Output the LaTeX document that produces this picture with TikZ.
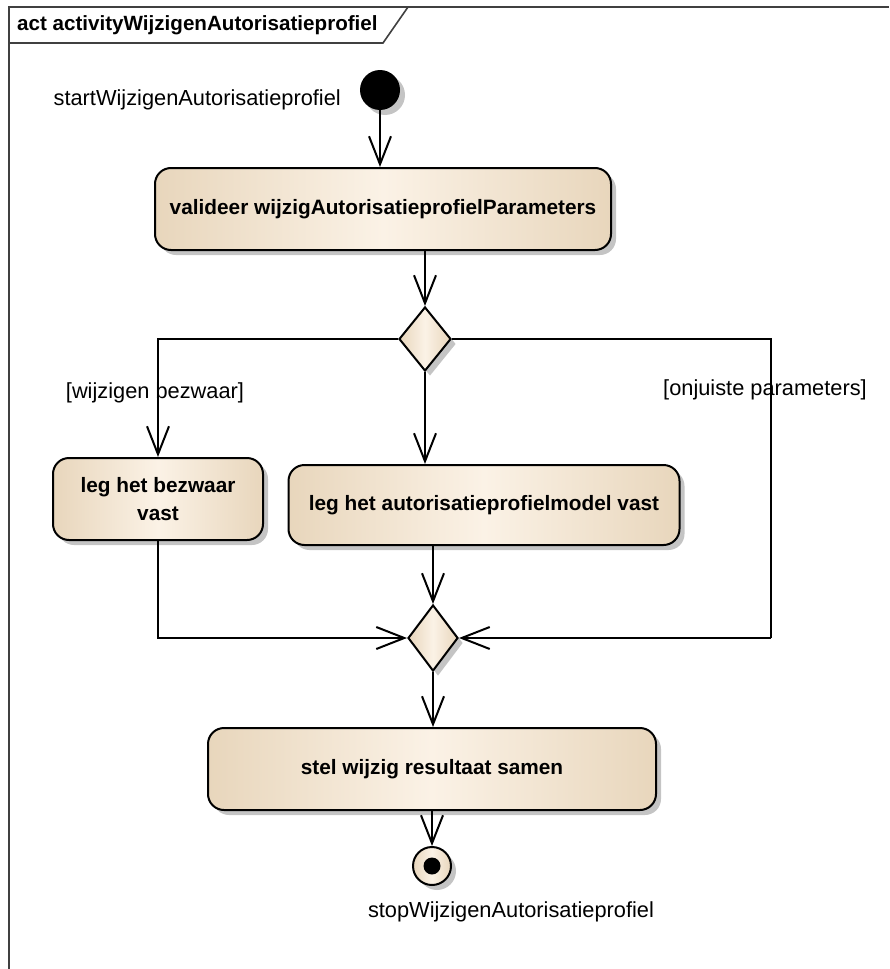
\documentclass[tikz,border=0pt]{standalone}
\usepackage{fontspec}
\setmainfont{Liberation Sans}
\usetikzlibrary{arrows.meta,shapes.geometric,shadows}

\definecolor{eabruin}{HTML}{E8D6BC}
\definecolor{eaLicht}{HTML}{FBF2E6}
\definecolor{easchaduw}{HTML}{C4C4C4}

\tikzset{
  schaduw/.style={drop shadow={shadow xshift=5pt,shadow yshift=-5pt,fill=easchaduw,opacity=1}},
  actie/.style={draw, line width=2pt, rounded corners=16pt, left color=eabruin, right color=eabruin,
    middle color=eaLicht, schaduw, align=center, font=\fontsize{20.8}{28}\selectfont\bfseries, inner sep=0pt},
  beslis/.style={diamond, draw, line width=2pt, inner sep=0pt, minimum width=52pt, minimum height=64pt,
    left color=eabruin, right color=eabruin, middle color=eaLicht, schaduw},
  flow/.style={line width=2pt, -{Straight Barb[length=28pt,width=22pt]}},
  lijn/.style={line width=2pt},
  tekst/.style={font=\fontsize{21.8}{26}\selectfont, inner sep=0pt}
}

\begin{document}
\begin{tikzpicture}[x=1pt,y=-1pt]
\useasboundingbox (0,0) rectangle (889,969);

% frame
\draw[line width=1.6pt, black!75] (9,969) -- (9,7) -- (889,7);
\draw[line width=1.6pt, black!75] (9,43) -- (383,43) -- (408,7);
\node[tekst, font=\fontsize{20.6}{24}\selectfont\bfseries, anchor=west] (titel) at (17,25) {act activityWijzigenAutorisatieprofiel};

\node[circle, fill=black, minimum size=40pt, inner sep=0pt, schaduw] (start) at (380,90) {};
\node[tekst, anchor=east] (startlbl) at (341,100) {startWijzigenAutorisatieprofiel};

\node[actie, minimum width=456pt, minimum height=82pt] (valideer) at (383,209) {valideer wijzigAutorisatieprofielParameters};
\node[beslis] (keuze) at (425,339) {};

\node[actie, minimum width=210pt, minimum height=82pt] (bezwaar) at (158,499) {leg het bezwaar\\vast};
\node[actie, minimum width=391pt, minimum height=80pt] (model) at (484,505) {leg het autorisatieprofielmodel vast};

\node[beslis, minimum width=50pt, minimum height=66pt] (samen) at (433,638) {};
\coordinate (rechts) at (771,638);

\node[actie, minimum width=448pt, minimum height=82pt] (stel) at (432,769) {stel wijzig resultaat samen};

\node[circle, draw, line width=2pt, minimum size=38pt, inner sep=0pt, left color=eabruin, right color=eabruin,
  middle color=eaLicht, schaduw, path picture={\fill[black] (path picture bounding box.center) circle (8.5pt);}] (stop) at (432,866) {};
\node[tekst] (stoplbl) at (511,912) {stopWijzigenAutorisatieprofiel};

\draw[flow] (start) -- (start |- valideer.north);
\draw[flow] (valideer.south -| keuze) -- (keuze.north);
\draw[flow] (keuze.west) -| (bezwaar.north);
\node[tekst] (lblbezwaar) at (155,393) {[wijzigen bezwaar]};
\draw[flow] (keuze.south) -- (keuze |- model.north);
\draw[lijn] (keuze.east) -| (rechts);
\draw[flow] (rechts) -- (samen.east);
\node[tekst] (lblonjuist) at (765,390) {[onjuiste parameters]};
\draw[flow] (bezwaar.south) |- (samen.west);
\draw[flow] (model.south -| samen) -- (samen.north);
\draw[flow] (samen.south) -- (samen |- stel.north);
\draw[flow] (stel.south -| stop) -- (stop.north);
\end{tikzpicture}
\end{document}
